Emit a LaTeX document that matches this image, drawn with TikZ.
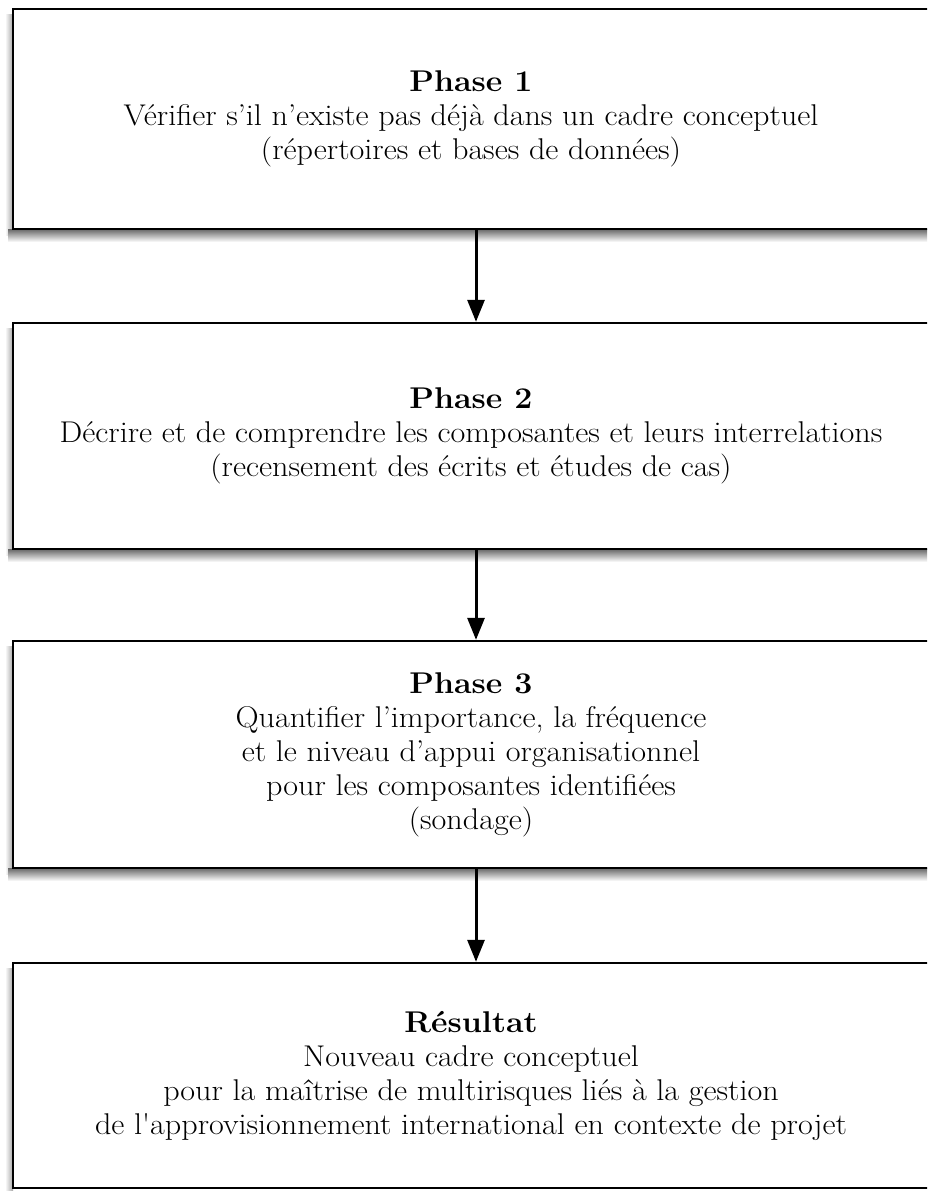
\documentclass[tikz,border=0pt]{standalone}
\usepackage{fontspec}
\setmainfont{Latin Modern Roman}[FakeStretch=1.07]
\newfontfamily\nomapfont{Latin Modern Roman}[FakeStretch=1.07,Ligatures=TeXOff]
\usetikzlibrary{arrows.meta}
\tikzset{
  box/.style={draw=black, line width=2.4pt, fill=white, minimum width=916pt, align=center, inner sep=0pt,
              font=\fontsize{30}{34}\selectfont},
  arr/.style={line width=3pt, -{Triangle[width=17pt,length=22pt]}},
  bshadow/.style={top color=black!60, bottom color=white},
  lshadow/.style={left color=white, right color=black!35},
}
\newcommand{\straightq}{{\nomapfont\char"27}}
\begin{document}
\begin{tikzpicture}[x=1pt,y=-1pt]
\useasboundingbox (0,0) rectangle (927,1191);
\clip (0,0) rectangle (927,1191);
\fill[white] (0,0) rectangle (927,1191);
% shadows
\shade[lshadow] (5,14) rectangle (13,235);
\shade[bshadow] (8,229) rectangle (940,242);
\shade[lshadow] (5,328) rectangle (13,555);
\shade[bshadow] (8,549) rectangle (940,562);
\shade[lshadow] (5,646) rectangle (13,874);
\shade[bshadow] (8,868) rectangle (940,881);
\shade[lshadow] (5,968) rectangle (13,1191);
% boxes
\node[box, minimum height=220pt] (b1) at (471,119) {\textbf{Phase 1}\\V\'erifier s’il n’existe pas d\'ej\`a dans un cadre conceptuel\\(r\'epertoires et bases de donn\'ees)};
\node[box, minimum height=226pt] (b2) at (471,436) {\textbf{Phase 2}\\D\'ecrire et de comprendre les composantes et leurs interrelations\\(recensement des \'ecrits et \'etudes de cas)};
\node[box, minimum height=227pt] (b3) at (471,754.5) {\textbf{Phase 3}\\Quantifier l’importance, la fr\'equence\\et le niveau d’appui organisationnel\\pour les composantes identifi\'ees\\(sondage)};
\node[box, minimum height=225pt] (b4) at (471,1075.5) {\textbf{R\'esultat}\\Nouveau cadre conceptuel\\pour la ma\^itrise de multirisques li\'es \`a la gestion\\de l\straightq approvisionnement international en contexte de projet};
% arrows
\coordinate (ax) at (476,0);
\draw[arr] (b1.south -| ax) -- (b2.north -| ax);
\draw[arr] (b2.south -| ax) -- (b3.north -| ax);
\draw[arr] (b3.south -| ax) -- (b4.north -| ax);
\end{tikzpicture}
\end{document}
